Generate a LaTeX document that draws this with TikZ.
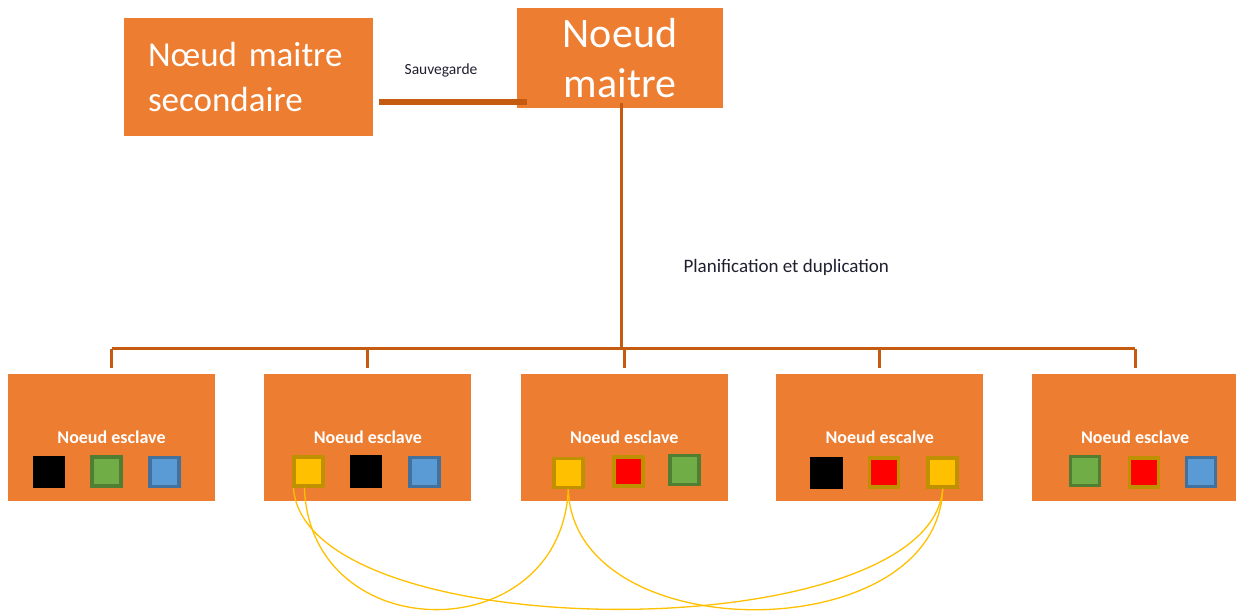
\documentclass[tikz,border=0pt]{standalone}
\usepackage{fontspec}
\setmainfont{Carlito}
\usetikzlibrary{positioning,calc}
\definecolor{boxorange}{HTML}{ED7D31}
\definecolor{linkbrown}{HTML}{C55A11}
\definecolor{sqyellow}{HTML}{FFC000}
\definecolor{sqgold}{HTML}{BF9000}
\definecolor{sqgreen}{HTML}{70AD47}
\definecolor{sqgreenb}{HTML}{507E32}
\definecolor{sqblue}{HTML}{5B9BD5}
\definecolor{sqblueb}{HTML}{41719C}
\definecolor{textdark}{HTML}{1F1F2F}

\begin{document}
\begin{tikzpicture}[x=1pt, y=-1pt,
			master/.style={rectangle, fill=boxorange, text=white, inner sep=0pt},
			slave/.style={rectangle, fill=boxorange, text=white, inner sep=0pt, minimum width=207pt, minimum height=127pt, font=\fontsize{18}{21}\selectfont\bfseries},
			data/.style={rectangle, minimum size=29pt, inner sep=0pt, line width=3.5pt},
			datablack/.style={data, fill=black, draw=black},
			datagreen/.style={data, fill=sqgreen, draw=sqgreenb},
			datablue/.style={data, fill=sqblue, draw=sqblueb},
			datayellow/.style={data, fill=sqyellow, draw=sqgold},
			datared/.style={data, fill=red, draw=sqgold},
			replica/.style={draw=sqyellow, line width=1.3pt}]
			\useasboundingbox (0,0) rectangle (1236,612);
			\node[master, minimum width=249pt, minimum height=118pt, text width=201pt, align=left, font=\fontsize{35}{45}\selectfont] (second) at (248.5,77) {Nœud maitre\\secondaire};
			\node[master, minimum width=206pt, minimum height=100pt, align=center, font=\fontsize{42}{50}\selectfont] (maitre) at (620,58) {Noeud\\maitre};
			\node[font=\fontsize{15.5}{18}\selectfont, text=textdark] (sauv) at (441,70) {Sauvegarde};
			\node[font=\fontsize{19}{22}\selectfont, text=textdark, anchor=west] (plan) at (680,267) {Planification et duplication};
			\node[slave] (e1) at (111.5,437.5) {Noeud esclave};
			\node[slave] (e2) [right=49pt of e1] {Noeud esclave};
			\node[slave] (e3) [right=49pt of e2] {Noeud esclave};
			\node[slave] (e4) [right=48pt of e3] {Noeud escalve};
			\node[slave] (e5) [right=48pt of e4] {Noeud esclave};
			\node[datablack] (e1a) at ($(e1)+(-62.5,34.5)$) {};
			\node[datagreen] (e1b) at ($(e1)+(-5,34)$) {};
			\node[datablue] (e1c) at ($(e1)+(53,34.5)$) {};
			\node[datayellow] (e2a) at ($(e2)+(-59.5,34)$) {};
			\node[datablack] (e2b) at ($(e2)+(-2,34)$) {};
			\node[datablue] (e2c) at ($(e2)+(56.5,34.5)$) {};
			\node[datayellow] (e3a) at ($(e3)+(-56,35.5)$) {};
			\node[datared] (e3b) at ($(e3)+(4,34)$) {};
			\node[datagreen] (e3c) at ($(e3)+(60,32.5)$) {};
			\node[datablack] (e4a) at ($(e4)+(-53,35.5)$) {};
			\node[datared] (e4b) at ($(e4)+(4.5,35)$) {};
			\node[datayellow] (e4c) at ($(e4)+(63,35)$) {};
			\node[datagreen] (e5a) at ($(e5)+(-50,33.5)$) {};
			\node[datared] (e5b) at ($(e5)+(9,35)$) {};
			\node[datablue] (e5c) at ($(e5)+(66,34.5)$) {};
			\coordinate (bus) at ($(maitre.south |- e1.north)+(1,-25)$);
			\draw[linkbrown, line width=6pt] ([shift={(6,25)}]second.east) -- ([shift={(10,44)}]maitre.west);
			\begin{scope}[draw=linkbrown, line width=3pt]
				\draw ([shift={(1,-5)}]maitre.south) -- (bus);
				\draw ([yshift=25pt]e1.north) -- ([yshift=25pt]e5.north);
				\foreach \n in {1,...,5}
					\draw ([yshift=25pt]e\n.north) -- ([yshift=6pt]e\n.north);
			\end{scope}
			\draw[replica] ([xshift=-15pt]e2a.south) .. controls +(12,162) and +(-12,161) .. (e4c.south);
			\draw[replica] ([xshift=-4pt]e2a.south) .. controls +(6,162) and +(-7.5,161) .. (e3a.south);
			\draw[replica] (e3a.south) .. controls +(4.5,161) and +(-5.5,161) .. (e4c.south);
		\end{tikzpicture}
\end{document}
